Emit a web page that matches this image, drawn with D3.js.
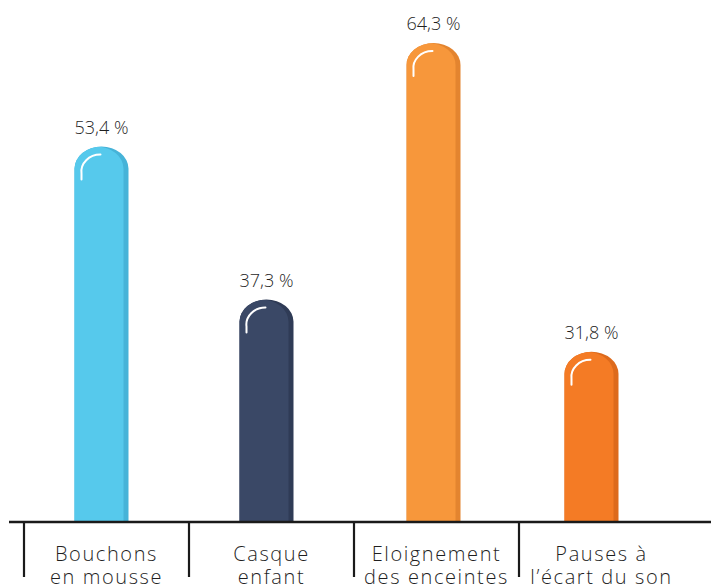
<!DOCTYPE html>
<html>
<head>
<meta charset="utf-8">
<script src="https://cdn.jsdelivr.net/npm/d3@7"></script>
<style>
  html, body { margin: 0; padding: 0; background: #fff; }
  svg { display: block; }
  text { font-family: "Open Sans", "Lato", sans-serif; font-weight: 300; fill: #1f1f1f; }
</style>
</head>
<body>
<svg id="chart" width="711" height="588"></svg>
<script>
// Protective measures: share of respondents
const categories = [
  ["Bouchons", "en mousse"],
  ["Casque", "enfant"],
  ["Eloignement", "des enceintes"],
  ["Pauses à", "l’écart du son"]
];
const values = [53.4, 37.3, 64.3, 31.8];
const valueLabels = ["53,4 %", "37,3 %", "64,3 %", "31,8 %"];
const fills = ["#56C9EC", "#3A4866", "#F7973B", "#F47B25"];
const shades = ["#46B3D8", "#2F3B56", "#E3842F", "#DD6A1C"];

const W = 711;
const baseY = 521;
const svg = d3.select("#chart");

const keys = categories.map(c => c.join(" "));
const x = d3.scaleBand().domain(keys).range([23, 683]).padding(0);
const y = d3.scaleLinear().domain([14, 64.3]).range([baseY, 43]);

// horizontal nudge of each bar from its band centre
const nudge = [-4, -4, -2, -9];
const barW = 54, rx = 27, ry = 22, shadeW = 5;

function capsule(x0, y0, w, h) {
  // rounded top, flat bottom
  return `M${x0},${y0 + h} L${x0},${y0 + ry} A${rx},${ry} 0 0 1 ${x0 + w / 2},${y0}` +
         ` A${rx},${ry} 0 0 1 ${x0 + w},${y0 + ry} L${x0 + w},${y0 + h} Z`;
}

const bars = svg.append("g").selectAll("g")
  .data(values)
  .join("g")
  .attr("transform", (d, i) => `translate(${x(keys[i]) + (x.bandwidth() - barW) / 2 + nudge[i]},0)`);

bars.each(function (d, i) {
  const g = d3.select(this);
  const top = y(d), h = baseY - top;
  const id = "clip" + i;
  g.append("clipPath").attr("id", id).append("path").attr("d", capsule(0, top, barW, h));
  g.append("path").attr("d", capsule(0, top, barW, h)).attr("fill", shades[i]);
  // main face, shifted left so the darker right edge shows
  g.append("g").attr("clip-path", `url(#${id})`)
    .append("path")
    .attr("d", capsule(-shadeW, top, barW, h + 2))
    .attr("fill", fills[i]);
  // highlight arc
  g.append("path")
    .attr("d", `M${7},${top + 33} L${7},${top + 27} A${19},${17} 0 0 1 ${26},${top + 8}`)
    .attr("fill", "none")
    .attr("stroke", "#fff")
    .attr("stroke-width", 2)
    .attr("stroke-linecap", "round");
  g.append("text")
    .attr("x", barW / 2)
    .attr("y", top - 13)
    .attr("text-anchor", "middle")
    .attr("font-size", 18)
    .text(valueLabels[i]);
});

// baseline and category separators
svg.append("line")
  .attr("x1", 9).attr("x2", W)
  .attr("y1", baseY + 1).attr("y2", baseY + 1)
  .attr("stroke", "#1a1a1a").attr("stroke-width", 2.4);

svg.append("g").selectAll("line")
  .data(keys)
  .join("line")
  .attr("x1", d => x(d) + 1).attr("x2", d => x(d) + 1)
  .attr("y1", baseY).attr("y2", 577)
  .attr("stroke", "#1a1a1a").attr("stroke-width", 2.2);

const labels = svg.append("g").selectAll("text")
  .data(categories)
  .join("text")
  .attr("text-anchor", "middle")
  .attr("font-size", 20)
  .attr("letter-spacing", 1.6)
  .attr("transform", (d, i) => `translate(${x(keys[i]) + x.bandwidth() / 2 + 1},0)`);

labels.selectAll("tspan")
  .data(d => d)
  .join("tspan")
  .attr("x", 0)
  .attr("y", (d, j) => 561 + j * 23)
  .text(d => d);
</script>
</body>
</html>
